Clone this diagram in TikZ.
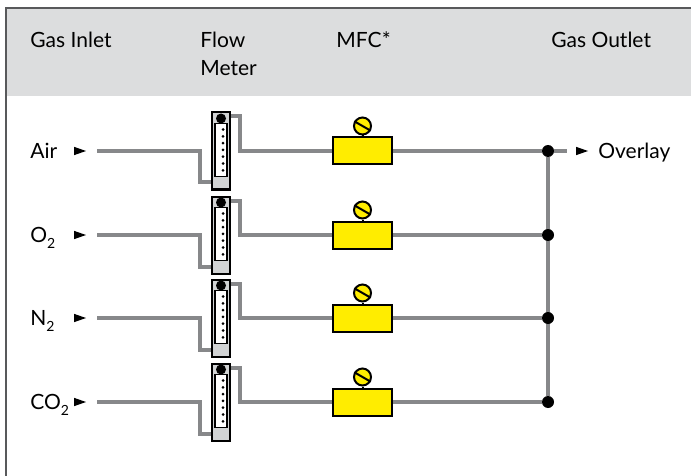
\documentclass[tikz,border=0pt]{standalone}
\usepackage{fontspec}
\setmainfont{Lato}
\usetikzlibrary{positioning,shapes.geometric,backgrounds}
\definecolor{headgray}{HTML}{DCDDDE}
\definecolor{framegray}{HTML}{58595B}
\definecolor{pipegray}{HTML}{87888A}
\definecolor{metergray}{HTML}{D1D3D4}
\definecolor{mfcyellow}{HTML}{FFED00}
\newcommand\gsub[1]{\raisebox{-0.55ex}{\fontsize{7}{7}\selectfont#1}}
\newcommand\tipat[1]{\fill (#1) -- ++(-12,-4.2) -- ++(0,8.4) -- cycle;}
\tikzset{
  lbl/.style={font=\fontsize{10.5}{14}\selectfont, inner sep=0pt},
  pipe/.style={draw=pipegray, line width=2pt},
  meter/.style={draw=black, line width=1pt, fill=metergray, minimum width=9pt, minimum height=38.5pt, inner sep=0pt},
  mfc/.style={draw=black, line width=1pt, fill=mfcyellow, minimum width=29.5pt, minimum height=13.5pt, inner sep=0pt},
  knob/.style={circle, draw=black, line width=1pt, fill=mfcyellow, minimum size=8.5pt, inner sep=0pt},
  junc/.style={circle, fill=black, minimum size=6pt, inner sep=0pt},
}
\begin{document}
\begin{tikzpicture}[x=0.5pt, y=-0.5pt]
  \useasboundingbox (0,0) rectangle (691,476);
  \fill[headgray] (6,8) rectangle (691,96);
  \draw[framegray, line width=0.6pt] (6,476) -- (6,8) -- (691,8);

  \node[lbl, anchor=base west] (hin) at (30,48) {Gas Inlet};
  \node[lbl, anchor=base west] (hfm) at (200,48) {Flow};
  \node[lbl, anchor=base west] (hmt) at ([yshift=-14pt]hfm.base west) {Meter};
  \node[lbl, anchor=base west] (hmfc) at (336,48) {MFC*};
  \node[lbl, anchor=base west] (hout) at (551,48) {Gas Outlet};

  \foreach \gas/\y [count=\i] in {Air/151, O\gsub{2}/235, N\gsub{2}/318, CO\gsub{2}/402} {
    \node[lbl, anchor=base west, yshift=-3.75pt] (g\i) at (30,\y) {\gas};
    \coordinate (t\i) at (86,\y);
    \tipat{t\i}
    \coordinate (s\i) at (97,\y);
    \node[meter] (fm\i) at (221,\y) {};
    \fill (fm\i.north) ++(0,7) circle (2.5pt);
    \draw[fill=white, line width=0.6pt] ([xshift=-3pt,yshift=-6pt]fm\i.north) rectangle ([xshift=3pt,yshift=-32.5pt]fm\i.north);
    \foreach \k in {0,...,6}
      \fill ([xshift=1pt,yshift=-9pt-\k*3.4pt]fm\i.north) circle (0.75pt);
    \node[mfc] (m\i) at (362.5,\y) {};
    \node[knob] (k\i) at ([yshift=5.25pt]m\i.north) {};
    \draw[line width=1pt] (k\i.south) -- (m\i.north);
    \draw[line width=1pt] (k\i.150) -- (k\i.-30);
    \node[junc] (j\i) at (548,\y) {};
    \begin{pgfonlayer}{background}
      \draw[pipe] (s\i) -- ++(103,0) |- ([yshift=4pt]fm\i.south west);
      \draw[pipe] ([yshift=-2.5pt]fm\i.north east) -- ++(9,0) |- (m\i.west);
      \draw[pipe] (m\i.east) -- (j\i);
    \end{pgfonlayer}
  }

  \coordinate (o) at (567,151);
  \coordinate (to) at (588,151);
  \tipat{to}
  \node[lbl, anchor=base west, yshift=-3.75pt] (ov) at (598,151) {Overlay};
  \begin{pgfonlayer}{background}
    \draw[pipe] (j1) -- (j4);
    \draw[pipe] (j1) -- (o);
  \end{pgfonlayer}
\end{tikzpicture}
\end{document}
